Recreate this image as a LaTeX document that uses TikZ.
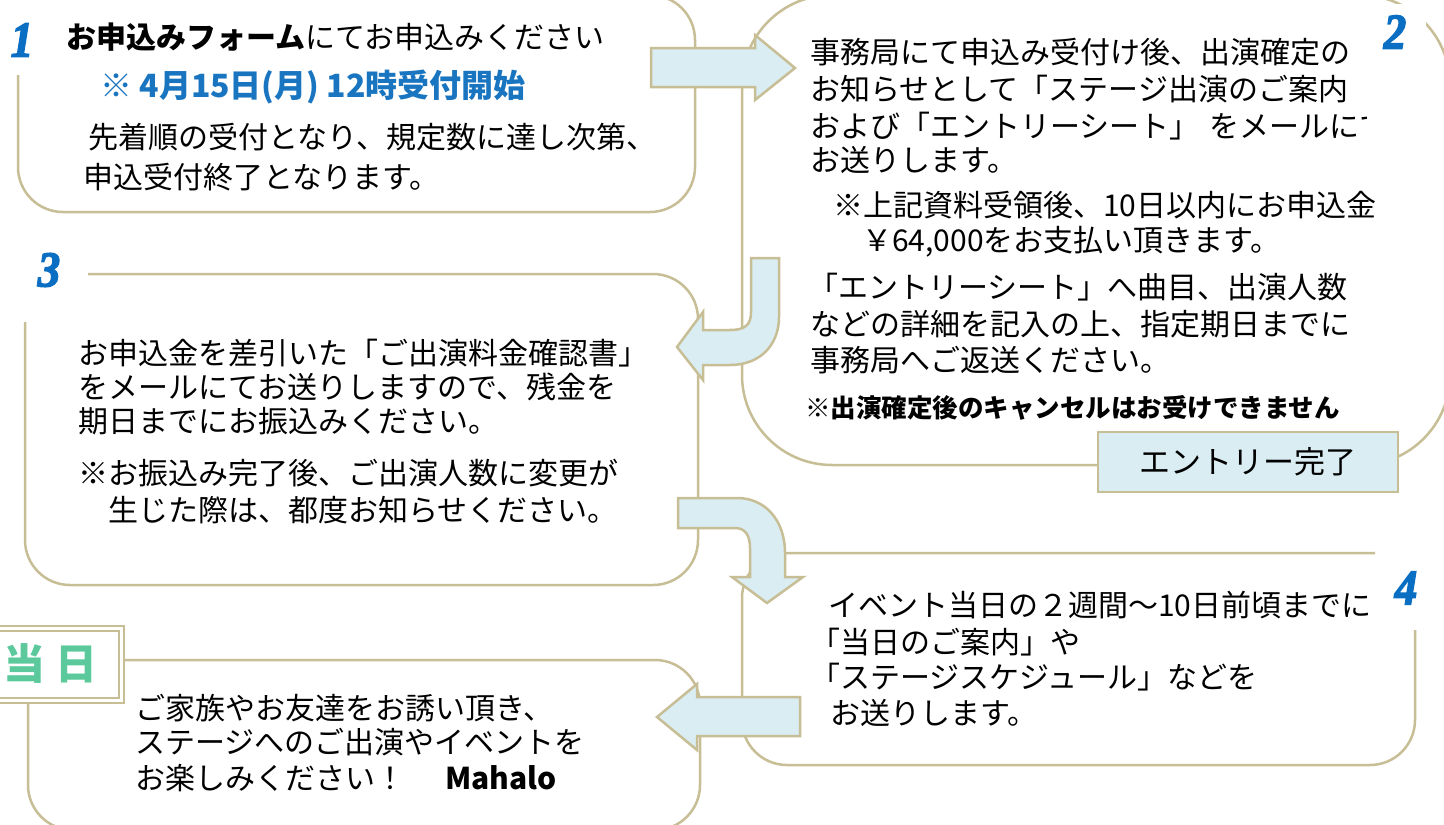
\documentclass[tikz,border=0pt]{standalone}
\usepackage{fontspec}
\setmainfont{Noto Sans CJK JP}
\newfontfamily\numfont{Liberation Serif}[UprightFont={* Bold Italic}, FakeBold=3]
\definecolor{boxtan}{RGB}{200,190,150}
\definecolor{arrowblue}{RGB}{218,237,243}
\definecolor{numblue}{RGB}{10,111,194}
\definecolor{hiblue}{RGB}{26,117,192}
\definecolor{mint}{RGB}{92,201,156}
\newcommand{\numtxt}[1]{\scalebox{0.9}[1]{#1}}
\begin{document}
\begin{tikzpicture}[x=1pt,y=-1pt,
  frame/.style={draw=boxtan, line width=2.5pt, rounded corners=45pt},
  flow/.style={draw=boxtan, fill=arrowblue, line width=2.5pt, line join=miter},
  txt/.style={anchor=base west, inner sep=0pt, font=\fontsize{30}{36}\selectfont},
  num/.style={font=\numfont\fontsize{50}{50}\selectfont, text=numblue, inner sep=2pt}]
\useasboundingbox[fill=white] (0,0) rectangle (1444,825);

% frames
\draw[frame] (18,75) -- (18,212) -- (695,212) -- (695,-5) -- (560,-5);
\draw[frame, rounded corners=90pt] (1098,465) -- (742,465) -- (742,-5) -- (1450,-5) -- (1450,465) -- (1398,465);
\draw[frame] (88,274) -- (698,274) -- (698,585) -- (25,585) -- (25,322);
\draw[frame] (1375,553) -- (742,553) -- (742,765) -- (1415,765) -- (1415,630);
\draw[frame] (28,700) -- (28,830) -- (700,830) -- (700,660) -- (122,660);

% block arrows
\draw[flow] (651,48) -- (755,48) -- (755,35) -- (795,68) -- (755,100) -- (755,87) -- (651,87) -- cycle;
\draw[flow] (751,258) -- (779,258) -- (779,317) .. controls (779,345) and (760,365) .. (730,365) -- (703,365) -- (703,380) -- (677,347) -- (703,312) -- (703,330) -- (730,330) .. controls (745,330) and (751,325) .. (751,312) -- cycle;
\draw[flow] (678,498) -- (737,498) .. controls (765,498) and (785,520) .. (785,553) -- (785,577) -- (803,577) -- (767,603) -- (732,577) -- (750,577) -- (750,548) .. controls (750,535) and (745,528) .. (735,528) -- (678,528) -- cycle;
\draw[flow] (800,697) -- (697,697) -- (697,684) -- (657,717) -- (697,750) -- (697,736) -- (800,736) -- cycle;

% numbers
\node[num] (n1) at (22,40) {\numtxt{1}};
\node[num, fill=white, minimum width=62pt, minimum height=56pt] (n2) at (1395,32) {\numtxt{2}};
\node[num] (n3) at (49,270) {\numtxt{3}};
\node[num] (n4) at (1406,588) {\numtxt{4}};

% box 1
\node[txt] (t1a) at (66,48) {\textbf{お申込みフォーム}にてお申込みください};
\node[txt, text=hiblue, font=\bfseries\fontsize{32}{36}\selectfont] (t1b) at (100,97) {※ 4月15日(月) 12時受付開始};
\node[txt] (t1c) at (88,148) {先着順の受付となり、規定数に達し次第、};
\node[txt] (t1d) at (83,188) {申込受付終了となります。};

% box 2
\node[txt] (t2a) at (810,63) {事務局にて申込み受付け後、出演確定の};
\node[txt] (t2b) at (810,100) {お知らせとして「ステージ出演のご案内};
\begin{scope}
\clip (800,100) rectangle (1366,150);
\node[txt] (t2c) at (810,137) {および「エントリーシート」\hspace{10pt}をメールにて};
\end{scope}
\node[txt] (t2d) at (810,171) {お送りします。};
\node[txt] (t2e) at (833,216) {※上記資料受領後、10日以内にお申込金};
\node[txt] (t2f) at (862,251) {￥64,000をお支払い頂きます。};
\node[txt] (t2g) at (808,298) {「エントリーシート」へ曲目、出演人数};
\node[txt] (t2h) at (810,335) {などの詳細を記入の上、指定期日までに};
\node[txt] (t2i) at (810,371) {事務局へご返送ください。};
\node[txt, font=\bfseries\fontsize{25.5}{30}\selectfont] (t2j) at (805,417) {※出演確定後のキャンセルはお受けできません};
\node[draw=boxtan, fill=arrowblue, line width=2.5pt, minimum width=300pt, minimum height=60pt, inner sep=0pt, font=\fontsize{31}{36}\selectfont] (done) at (1248,462) {エントリー完了};

% box 3
\node[txt] (t3a) at (78,364) {お申込金を差引いた「ご出演料金確認書」};
\node[txt] (t3b) at (78,398) {をメールにてお送りしますので、残金を};
\node[txt] (t3c) at (78,432) {期日までにお振込みください。};
\node[txt] (t3d) at (78,484) {※お振込み完了後、ご出演人数に変更が};
\node[txt] (t3e) at (108,521) {生じた際は、都度お知らせください。};

% box 4
\node[txt] (t4a) at (828,616) {イベント当日の２週間〜10日前頃までに};
\node[txt] (t4b) at (810,653) {「当日のご案内」や};
\node[txt] (t4c) at (810,688) {「ステージスケジュール」などを};
\node[txt] (t4d) at (830,724) {お送りします。};

% box 5
\node[draw=boxtan, double=white, double distance=3pt, line width=2pt, fill=white, minimum width=126pt, minimum height=72pt, inner sep=0pt, text=mint, font=\bfseries\fontsize{42}{44}\selectfont] (day) at (58,664) {\hspace{-14pt}当\hspace{10pt}日};
\node[txt] (t5a) at (135,719) {ご家族やお友達をお誘い頂き、};
\node[txt] (t5b) at (135,753) {ステージへのご出演やイベントを};
\node[txt] (t5c) at (135,789) {お楽しみください！\hspace{40pt}\textbf{Mahalo}};
\end{tikzpicture}
\end{document}
